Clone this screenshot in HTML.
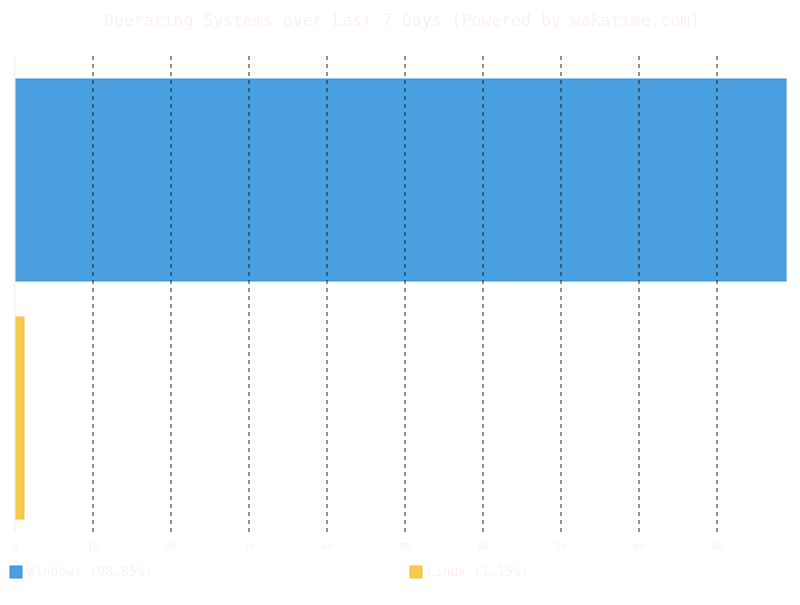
<!DOCTYPE html>
<html><head><meta charset="utf-8"><style>
html,body{margin:0;padding:0;background:#fff;}
svg text{font-family:"DejaVu Sans Mono","Liberation Mono",monospace;fill:#fdf0f0;}
</style></head><body>
<svg id="chart" width="800" height="600" xmlns="http://www.w3.org/2000/svg">
<text x="402" y="26" font-size="16.5" text-anchor="middle">Operating Systems over Last 7 Days (Powered by wakatime.com)</text>
<g id="bars"></g><g id="grid"></g><g id="ticks"></g><g id="legend"></g>
</svg>
<script>
const categories = ["Windows", "Linux"];
const values = [98.85, 1.15];
const tickValues = [0,10,20,30,40,50,60,70,80,90];
const colors = ["#4a9fe0", "#f6c94d"];
const strokes = ["#3a8dd0", "#f0bd3a"];
const NS="http://www.w3.org/2000/svg";
const x0=15, pxPer=7.8, plotTop=56, plotBottom=532;
const xScale=v=>x0+v*pxPer;
const band=(plotBottom-plotTop)/categories.length;
function mk(t,a,p){const e=document.createElementNS(NS,t);for(const k in a)e.setAttribute(k,a[k]);p.appendChild(e);return e;}
const gb=document.getElementById('bars'),gg=document.getElementById('grid'),gt=document.getElementById('ticks'),gl=document.getElementById('legend');
categories.forEach((c,i)=>{
  const r=mk('rect',{x:x0,y:plotTop+i*band+23,width:xScale(values[i])-x0,height:band-36,fill:colors[i],stroke:strokes[i],'stroke-width':1},gb);
  
  
});
tickValues.forEach(v=>{
  const l=mk('line',{x1:xScale(v),x2:xScale(v),y1:plotTop,y2:plotBottom,stroke:v===0?'#fdeaea':'#222','stroke-width':1,'stroke-dasharray':v===0?'none':'4,4'},gg);
  
  
  const t=mk('text',{x:xScale(v),y:550,'font-size':10,'text-anchor':'middle'},gt);
  t.textContent=v;
  
  
});
categories.forEach((c,i)=>{
  const lx=10+i*400;
  const g=mk('g',{},gl);
  
  
  mk('rect',{x:lx,y:566,width:12,height:12,fill:colors[i],stroke:strokes[i]},g);
  const t=mk('text',{x:lx+17,y:576,'font-size':13},g);
  t.textContent=c+' ('+values[i].toFixed(2)+'%)';
});
</script>
</body></html>
